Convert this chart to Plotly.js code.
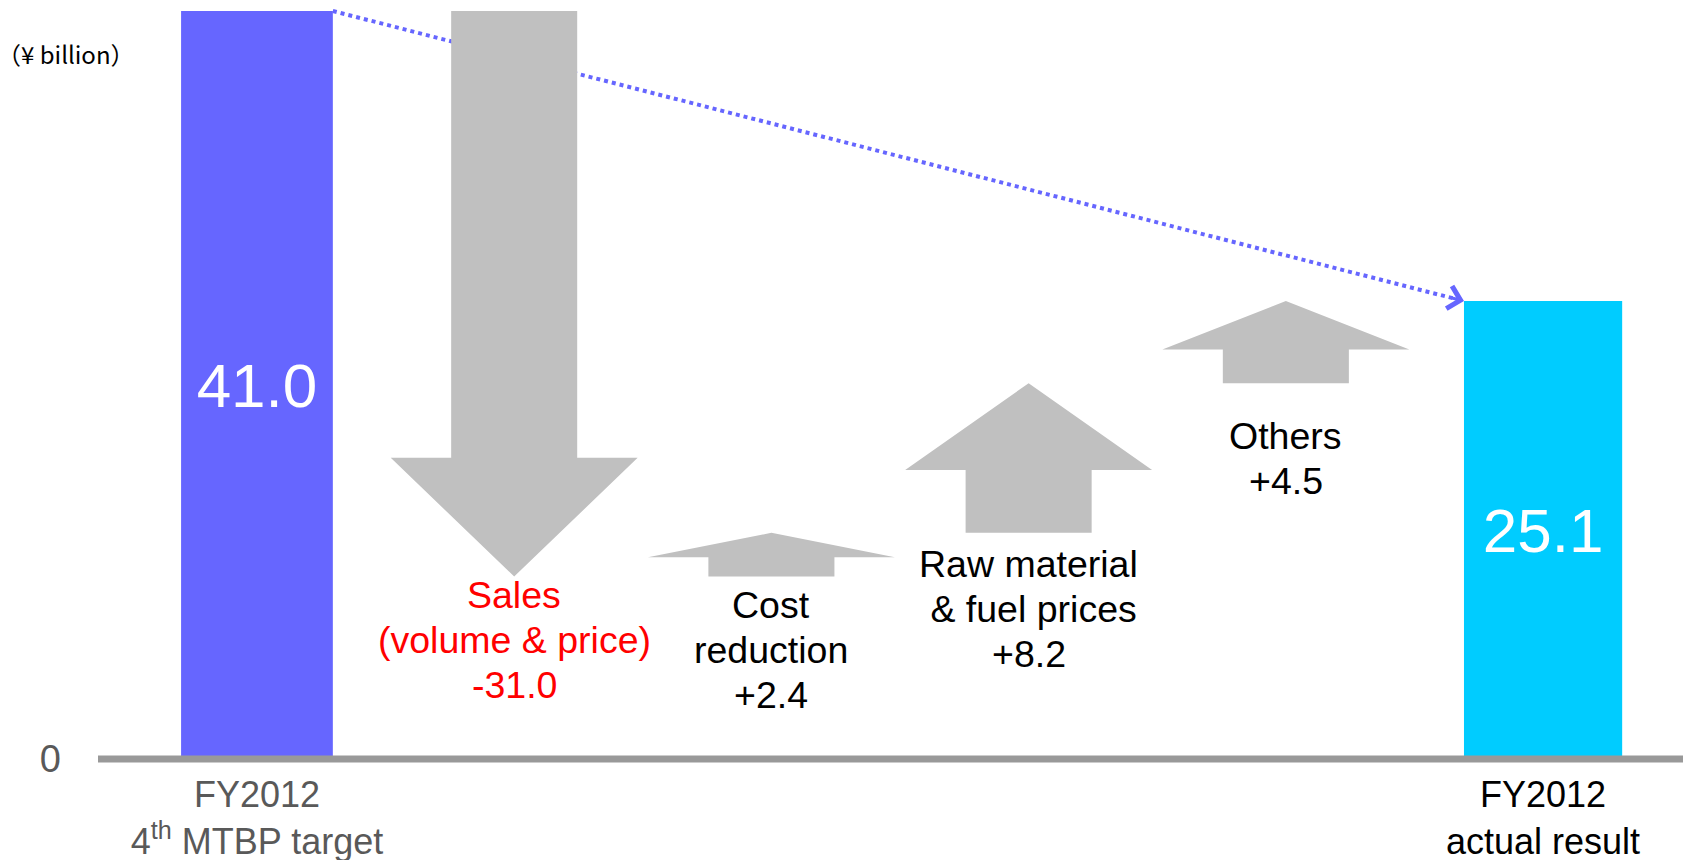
<!DOCTYPE html>
<html><head><meta charset="utf-8">
<script src="https://cdn.plot.ly/plotly-3.0.1.min.js"></script>
<style>html,body{margin:0;padding:0;background:#fff}</style>
</head><body><div id="chart" style="width:1683px;height:860px"></div>
<script>
// ---------- data ----------
const categories = ['FY2012 4th MTBP target', 'Sales (volume & price)', 'Cost reduction', 'Raw material & fuel prices', 'Others', 'FY2012 actual result'];
const startValue = 41.0;
const stepValues = [-31.0, 2.4, 8.2, 4.5];
const endValue = 25.1;
const stepLabels = [['Sales', '(volume & price)'], ['Cost', 'reduction'], ['Raw material', ' & fuel prices'], ['Others']];
const axisLabels = ['<span style="color:#595959">FY2012</span><br><span style="color:#595959">4<sup>th</sup> MTBP target</span>', 'FY2012<br>actual result'];
const zeroLabel = ['0'];
const unitLabel = '（¥ billion）';

// ---------- styles ----------
const FONT = 'Arial, "Liberation Sans", sans-serif';
const C = {target:'#6666FF', result:'#00CCFF', arrow:'#C0C0C0', axis:'#999999', link:'#6666FF', neg:'#FF0000', pos:'#000000', muted:'#595959'};
const barWidths = [0.59, 0.615];
const shaftWidth = 0.49, headWidth = 0.96;
const headRatio = [0.21, 0.56, 0.58, 0.59];
const labelOffset = [-18, -28, -31, -53];   // px, first text line centre below arrow end
const lineStep = 45;                         // px between label lines
const labelSize = 37.5;

// ---------- build ----------
const xIdx = categories.map((_, i) => i);
const last = xIdx[xIdx.length - 1];
let level = startValue;
const arrows = stepValues.map((v, k) => { const from = level; level += v; return {x: xIdx[k + 1], from: from, to: level, v: v}; });

const barTrace = {
  type: 'bar', x: [xIdx[0], last], y: [startValue, endValue], width: barWidths,
  marker: {color: [C.target, C.result], line: {width: 0}},
  text: [startValue, endValue].map(v => v.toFixed(1)), textposition: 'inside', insidetextanchor: 'middle',
  textfont: {family: FONT, size: 62, color: '#ffffff'}, constraintext: 'none', hoverinfo: 'skip'
};

const linkX0 = xIdx[0] + barWidths[0] / 2, linkX1 = last - barWidths[1] / 2;
const linkTrace = {
  type: 'scatter', mode: 'lines', x: [linkX0, linkX1], y: [startValue, endValue],
  line: {color: C.link, width: 4, dash: '4px,4px'}, hoverinfo: 'skip', cliponaxis: false
};

const arrowTraces = arrows.map((a, k) => {
  const hb = a.to - headRatio[k] * (a.to - a.from);
  const c = a.x, s = shaftWidth / 2, h = headWidth / 2;
  return {
    type: 'scatter', mode: 'lines',
    x: [c - s, c - s, c - h, c, c + h, c + s, c + s, c - s],
    y: [a.from, hb, hb, a.to, hb, hb, a.from, a.from],
    fill: 'toself', fillcolor: C.arrow, line: {width: 0, color: C.arrow}, hoverinfo: 'skip'
  };
});

const fmt = v => (v > 0 ? '+' : '') + v.toFixed(1);
const stepAnnotations = [];
arrows.forEach((a, k) => {
  const lines = stepLabels[k].concat([fmt(a.v)]);
  lines.forEach((t, j) => stepAnnotations.push({
    x: a.x, y: Math.min(a.from, a.to), xref: 'x', yref: 'y', xanchor: 'center', yanchor: 'middle',
    yshift: labelOffset[k] - j * lineStep, showarrow: false, align: 'center', text: t,
    font: {family: FONT, size: labelSize, color: a.v < 0 ? C.neg : C.pos}
  }));
});

const headFrac = 0.012;
const linkHead = {
  x: linkX1, y: endValue, xref: 'x', yref: 'y',
  ax: linkX1 - headFrac * (linkX1 - linkX0), ay: endValue - headFrac * (endValue - startValue),
  axref: 'x', ayref: 'y', showarrow: true, arrowhead: 4, arrowsize: 1.5, arrowwidth: 3,
  arrowcolor: C.link, text: ''
};

const unitAnn = {
  xref: 'paper', yref: 'paper', x: 0, y: 1, xshift: -103, yshift: -53, xanchor: 'left', yanchor: 'middle',
  showarrow: false, text: unitLabel, font: {family: '"Noto Sans CJK JP", sans-serif', size: 24, color: '#000'}
};

const layout = {
  width: 1683, height: 860,
  margin: {l: 98, r: 0, t: 0, b: 90},
  paper_bgcolor: '#ffffff', plot_bgcolor: '#ffffff', showlegend: false,
  xaxis: {
    range: [-0.618, 5.544], tickvals: [xIdx[0], last], ticktext: axisLabels,
    showgrid: false, zeroline: false, showline: false, ticks: '',
    tickfont: {family: FONT, size: 36, color: '#000000'}, fixedrange: true
  },
  yaxis: {
    range: [-0.603, 41.603], tickvals: [0], ticktext: zeroLabel,
    showgrid: false, zeroline: false, showline: false, ticks: '', ticklabelstandoff: 36,
    tickfont: {family: FONT, size: 38, color: C.muted}, fixedrange: true
  },
  shapes: [{type: 'line', xref: 'paper', x0: 0, x1: 1, yref: 'y', y0: 0, y1: 0, layer: 'above', line: {color: C.axis, width: 7}}],
  annotations: [...stepAnnotations, linkHead, unitAnn]
};

Plotly.newPlot('chart', [barTrace, linkTrace, ...arrowTraces], layout, {displayModeBar: false, staticPlot: true});
</script></body></html>
